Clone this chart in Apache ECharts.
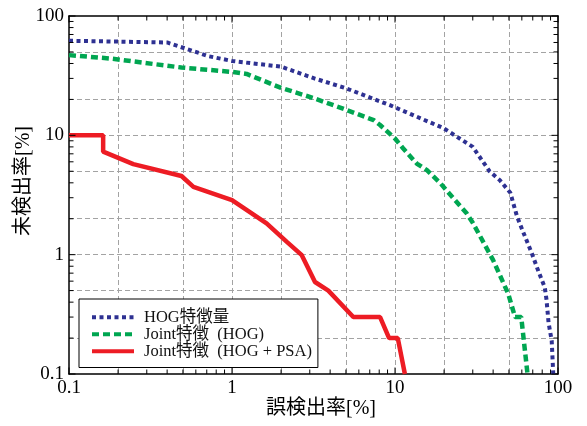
<!DOCTYPE html>
<html>
<head>
<meta charset="utf-8">
<script src="https://cdn.jsdelivr.net/npm/echarts@6/dist/echarts.min.js"></script>
<style>
  html, body { margin: 0; padding: 0; background: #fff; }
  #chart { width: 587px; height: 426px; }
</style>
</head>
<body>
<div id="chart"></div>
<script>
// Detection error trade-off curves (false positive rate vs. miss rate, both in %)
const seriesNames = ['HOG特徴量', 'Joint特徴  (HOG)', 'Joint特徴  (HOG + PSA)'];

// HOG features
const hogFalsePos = [0.1, 0.4, 0.72, 1.0, 2.0, 3.2, 5.0, 9.3, 19.8, 30, 38, 44, 51, 56, 61, 69, 76, 83, 85, 87.5, 91.5, 93.5];
const hogMiss     = [62, 60, 46, 42, 37.6, 30, 24.8, 17.9, 11.5, 8.0, 5.0, 4.2, 3.3, 2.1, 1.56, 1.03, 0.72, 0.53, 0.42, 0.27, 0.19, 0.1];

// Joint features (HOG)
const jointFalsePos = [0.1, 0.18, 0.49, 1.0, 1.23, 2.0, 3.2, 5.06, 7.4, 8.1, 10, 11.2, 13.6, 15.7, 18.9, 22.8, 27.5, 30, 40, 49.5, 54.5, 59.5, 65];
const jointMiss     = [47, 44, 37, 34, 32.7, 25, 20.4, 16.3, 13.4, 12.2, 9.4, 7.8, 5.8, 5.1, 4.0, 2.97, 2.22, 1.85, 0.9, 0.47, 0.3, 0.3, 0.1];

// Joint features (HOG + PSA)
const psaFalsePos = [0.1, 0.162, 0.162, 0.248, 0.49, 0.58, 1.0, 1.63, 2.17, 2.68, 3.23, 3.9, 5.55, 8.1, 9.2, 10.4, 11.5];
const psaMiss     = [10, 10, 7.3, 5.74, 4.56, 3.7, 2.87, 1.83, 1.28, 0.99, 0.59, 0.5, 0.3, 0.3, 0.2, 0.2, 0.1];

// Axis ticks, labels and grid positions
const decadeLabels = [0.1, 1, 10, 100];
const gridValues = [0.2, 0.5, 1, 2, 5, 10, 20, 50];
const minorTickValues = [
  0.2, 0.3, 0.4, 0.5, 0.6, 0.7, 0.8, 0.9,
  2, 3, 4, 5, 6, 7, 8, 9,
  20, 30, 40, 50, 60, 70, 80, 90
];

const FONT = "'Liberation Serif', 'Noto Sans CJK JP', serif";
const AXIS_MIN = 0.1, AXIS_MAX = 100;
const MAJOR_TICK = 6.5, MINOR_TICK = 4.5;

const pairs = (xs, ys) => xs.map((x, i) => [x, ys[i]]);
const fmt = v => String(+Number(v).toPrecision(3));

function frameAxis(position, withLabels, name, nameExtra) {
  const ax = {
    type: 'log', logBase: 10, min: AXIS_MIN, max: AXIS_MAX, position: position,
    axisLine: { show: true, onZero: false, lineStyle: { color: '#000', width: 1.5 } },
    axisTick: { show: false },
    axisLabel: { show: withLabels, customValues: decadeLabels, formatter: fmt,
                 color: '#000', fontFamily: FONT, fontSize: 19, margin: 5 },
    splitLine: { show: false },
    minorTick: { show: false }
  };
  if (name) Object.assign(ax, { name: name, nameMoveOverlap: false }, nameExtra);
  return ax;
}

function gridAxis(position) {
  return {
    type: 'log', logBase: 10, min: AXIS_MIN, max: AXIS_MAX, position: position,
    axisLine: { show: false, onZero: false },
    axisTick: { show: false, customValues: gridValues },
    axisLabel: { show: false },
    splitLine: { show: true, customValues: gridValues,
                 lineStyle: { color: '#a3a3a3', width: 1, type: [5, 3] } }
  };
}

// Inward tick marks on all four sides of the frame, placed through the axis scales
function tickSeries(dim) {
  const values = decadeLabels.concat(minorTickValues);
  return {
    type: 'custom', xAxisIndex: 0, yAxisIndex: 0, clip: false, silent: true, z: 5,
    data: values.map(v => [v, decadeLabels.indexOf(v) >= 0 ? 1 : 0]),
    renderItem: function (params, api) {
      const v = api.value(0);
      const len = api.value(1) ? MAJOR_TICK : MINOR_TICK;
      const style = { stroke: '#000', lineWidth: 1 };
      let a, b;
      if (dim === 'x') {
        a = api.coord([v, AXIS_MIN]); b = api.coord([v, AXIS_MAX]);
        return { type: 'group', children: [
          { type: 'line', shape: { x1: a[0], y1: a[1], x2: a[0], y2: a[1] - len }, style: style },
          { type: 'line', shape: { x1: b[0], y1: b[1], x2: b[0], y2: b[1] + len }, style: style }
        ] };
      }
      a = api.coord([AXIS_MIN, v]); b = api.coord([AXIS_MAX, v]);
      return { type: 'group', children: [
        { type: 'line', shape: { x1: a[0], y1: a[1], x2: a[0] + len, y2: a[1] }, style: style },
        { type: 'line', shape: { x1: b[0], y1: b[1], x2: b[0] - len, y2: b[1] }, style: style }
      ] };
    }
  };
}

const chart = echarts.init(document.getElementById('chart'), null, { renderer: 'canvas' });

chart.setOption({
  animation: false,
  backgroundColor: '#fff',
  grid: { left: 69, right: 29, top: 16, bottom: 52, containLabel: false, outerBoundsMode: 'none' },
  xAxis: [
    frameAxis('bottom', true, '誤検出率[%]', {
      nameLocation: 'middle', nameGap: 25,
      nameTextStyle: { color: '#000', fontFamily: FONT, fontSize: 20, padding: [0, 0, 0, 15] }
    }),
    frameAxis('top', false),
    gridAxis('bottom')
  ],
  yAxis: [
    frameAxis('left', true, '未検出率[%]', {
      nameLocation: 'middle', nameGap: 35,
      nameTextStyle: { color: '#000', fontFamily: FONT, fontSize: 20, padding: [0, 0, 0, 28] }
    }),
    frameAxis('right', false),
    gridAxis('left')
  ],
  legend: {
    left: 79, top: 299, orient: 'vertical',
    padding: [10, 6, 8, 11], itemGap: 0.5, itemWidth: 42, itemHeight: 12,
    borderColor: '#000', borderWidth: 1, borderRadius: 0, backgroundColor: '#fff',
    lineStyle: { width: 4 },
    itemStyle: { opacity: 0, borderWidth: 0 },
    textStyle: { color: '#111', fontFamily: FONT, fontSize: 16.5, lineHeight: 16, padding: [0, 0, 0, 5] },
    selectedMode: false,
    data: seriesNames
  },
  series: [
    {
      name: seriesNames[0], type: 'line', xAxisIndex: 0, yAxisIndex: 0,
      data: pairs(hogFalsePos, hogMiss), symbol: 'none', clip: true,
      lineStyle: { color: '#2e3192', width: 4, type: [4, 3.5], cap: 'butt' },
      itemStyle: { color: '#2e3192' }, z: 3
    },
    {
      name: seriesNames[1], type: 'line', xAxisIndex: 0, yAxisIndex: 0,
      data: pairs(jointFalsePos, jointMiss), symbol: 'none', clip: true,
      lineStyle: { color: '#00a651', width: 4.5, type: [7, 4], cap: 'butt' },
      itemStyle: { color: '#00a651' }, z: 3
    },
    {
      name: seriesNames[2], type: 'line', xAxisIndex: 0, yAxisIndex: 0,
      data: pairs(psaFalsePos, psaMiss), symbol: 'none', clip: true,
      lineStyle: { color: '#ed1c24', width: 4.5, type: 'solid' },
      itemStyle: { color: '#ed1c24' }, z: 3
    },
    tickSeries('x'),
    tickSeries('y')
  ]
});
</script>
</body>
</html>
